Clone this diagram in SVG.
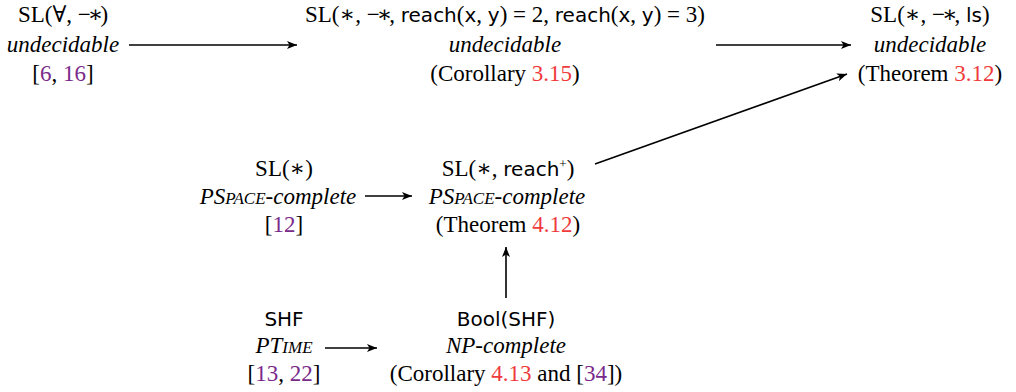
<svg xmlns="http://www.w3.org/2000/svg" width="1016" height="392" viewBox="0 0 1016 392">
<defs>
<marker id="ah" viewBox="0 0 10 8" refX="10" refY="4" markerWidth="11" markerHeight="8" markerUnits="userSpaceOnUse" orient="auto">
<path d="M0,0 L10,4 L0,8 L2.5,4 Z" fill="#000"/>
</marker>
</defs>
<style>
text{font-family:"Liberation Serif","DejaVu Serif",serif;font-size:23px;fill:#000;text-anchor:middle}
.it{font-style:italic}
.sf{font-family:"DejaVu Sans","Liberation Sans",sans-serif;font-size:20px}
.sc{font-size:17px}
.pu{fill:#7a2a8a}
.rd{fill:#ef3b3b}
.mw{letter-spacing:-3px}
.edge{stroke:#000;stroke-width:1.6;fill:none;marker-end:url(#ah)}
</style>
<rect width="1016" height="392" fill="#fff"/>
<g id="n1">
<text x="63" y="22">SL(∀, <tspan class="mw">−∗</tspan>)</text>
<text x="63" y="52" class="it">undecidable</text>
<text x="63" y="81">[<tspan class="pu">6</tspan>, <tspan class="pu">16</tspan>]</text>
</g>
<g id="n2">
<text x="505" y="22">SL(∗, <tspan class="mw">−∗</tspan>, <tspan class="sf">reach</tspan>(<tspan class="sf">x</tspan>, <tspan class="sf">y</tspan>) = 2, <tspan class="sf">reach</tspan>(<tspan class="sf">x</tspan>, <tspan class="sf">y</tspan>) = 3)</text>
<text x="505" y="52" class="it">undecidable</text>
<text x="505" y="81">(Corollary <tspan class="rd">3.15</tspan>)</text>
</g>
<g id="n3">
<text x="930" y="22">SL(∗, <tspan class="mw">−∗</tspan>, <tspan class="sf">ls</tspan>)</text>
<text x="930" y="52" class="it">undecidable</text>
<text x="930" y="81">(Theorem <tspan class="rd">3.12</tspan>)</text>
</g>
<g id="n4">
<text x="284" y="176">SL(∗)</text>
<text x="278" y="204" class="it">PS<tspan class="sc">PACE</tspan>-complete</text>
<text x="284" y="232">[<tspan class="pu">12</tspan>]</text>
</g>
<g id="n5">
<text x="508" y="176">SL(∗, <tspan class="sf">reach</tspan><tspan font-size="13" dy="-8">+</tspan><tspan dy="8">)</tspan></text>
<text x="507" y="204" class="it">PS<tspan class="sc">PACE</tspan>-complete</text>
<text x="508" y="232">(Theorem <tspan class="rd">4.12</tspan>)</text>
</g>
<g id="n6">
<text x="284" y="326" class="sf">SHF</text>
<text x="284" y="353" class="it">PT<tspan class="sc">IME</tspan></text>
<text x="284" y="381">[<tspan class="pu">13</tspan>, <tspan class="pu">22</tspan>]</text>
</g>
<g id="n7">
<text x="506" y="326" class="sf">Bool(SHF)</text>
<text x="506" y="353" class="it">NP-complete</text>
<text x="506" y="381">(Corollary <tspan class="rd">4.13</tspan> and [<tspan class="pu">34</tspan>])</text>
</g>
<g id="edges">
<line class="edge" x1="129" y1="45" x2="297" y2="45"/>
<line class="edge" x1="716" y1="45" x2="851" y2="45"/>
<line class="edge" x1="595" y1="164" x2="847" y2="74"/>
<line class="edge" x1="365" y1="196" x2="412" y2="196"/>
<line class="edge" x1="506" y1="298" x2="506" y2="247"/>
<line class="edge" x1="325" y1="348" x2="377" y2="348"/>
</g>
</svg>
